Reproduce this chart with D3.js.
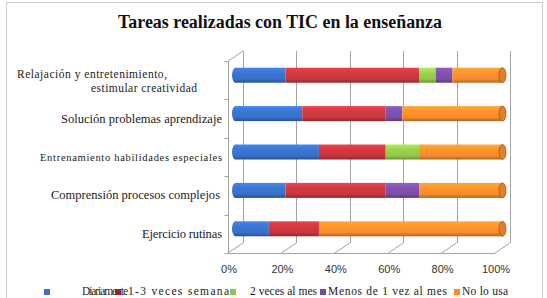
<!DOCTYPE html>
<html>
<head>
<meta charset="utf-8">
<script src="https://cdn.jsdelivr.net/npm/d3@7"></script>
<style>
  html, body { margin: 0; padding: 0; background: #fff; overflow: hidden; }
</style>
</head>
<body>
<div id="chart"></div>
<script>
// Datos (porcentaje de docentes, n = 16)
const categories = [
  'Relajación y entretenimiento,\nestimular creatividad',
  'Solución problemas aprendizaje',
  'Entrenamiento habilidades especiales',
  'Comprensión procesos complejos',
  'Ejercicio rutinas'
];
const seriesNames = ['Diariamente', '1-3  veces  semana', '2  veces  al  mes', 'Menos de 1 vez al mes', 'No lo usa'];
const diariamente = [18.75, 25, 31.25, 18.75, 12.5];
const semanal = [50, 31.25, 25, 37.5, 18.75];
const mensual = [6.25, 0, 12.5, 0, 0];
const menosMes = [6.25, 6.25, 0, 12.5, 0];
const noUsa = [18.75, 37.5, 31.25, 31.25, 68.75];
const tickValues = [0, 20, 40, 60, 80, 100];
const seriesColors = ['#3870c8', '#c8363e', '#92c84a', '#7a4fa6', '#f68c2c'];
const legendColors = ['#3f6fc6', '#9c1f2f', '#92c84a', '#7448a6', '#f68c2c'];

(function() {
  'use strict';

  const width = 547;
  const height = 298;
  const serif = '"Liberation Serif", "Times New Roman", serif';
  const sans = '"Liberation Sans", Arial, sans-serif';

  // pared del fondo y desplazamiento de profundidad (efecto 3D)
  const wall = { x0: 243, x1: 510, y0: 51, y1: 243 };
  const depth = { dx: -15, dy: 10 };

  const series = [diariamente, semanal, mensual, menosMes, noUsa];

  const svg = d3.select('#chart')
    .append('svg')
    .attr('width', width)
    .attr('height', height)
    .style('display', 'block');

  const defs = svg.append('defs');

  const x = d3.scaleLinear().domain([0, 100]).range([wall.x0, wall.x1]);
  const y = d3.scaleBand().domain(categories).range([wall.y0, wall.y1]);

  // borde exterior
  svg.append('rect')
    .attr('x', 6.5).attr('y', 2.5)
    .attr('width', 536).attr('height', 310)
    .attr('fill', '#fff')
    .attr('stroke', '#c9c9c9');

  // título
  svg.append('text')
    .attr('x', 280).attr('y', 28)
    .attr('text-anchor', 'middle')
    .attr('font-family', serif)
    .attr('font-weight', 'bold')
    .attr('font-size', 18)
    .attr('textLength', 324)
    .attr('lengthAdjust', 'spacingAndGlyphs')
    .attr('fill', '#111')
    .text('Tareas realizadas con TIC en la enseñanza');

  // gradientes de cilindro
  seriesColors.forEach((c, i) => {
    const base = d3.color(c);
    const g = defs.append('linearGradient')
      .attr('id', 'cyl' + i)
      .attr('x1', 0).attr('y1', 0).attr('x2', 0).attr('y2', 1);
    g.append('stop').attr('offset', '0%').attr('stop-color', base.brighter(0.5));
    g.append('stop').attr('offset', '35%').attr('stop-color', base.brighter(0.15));
    g.append('stop').attr('offset', '75%').attr('stop-color', base);
    g.append('stop').attr('offset', '100%').attr('stop-color', base.darker(0.9));
  });

  const grid = svg.append('g')
    .attr('stroke', '#a3a3a3')
    .attr('stroke-width', 1)
    .attr('fill', 'none');

  // líneas verticales de la pared del fondo
  grid.selectAll('.vline')
    .data(tickValues)
    .enter().append('line')
    .attr('x1', d => Math.round(x(d)) + 0.5).attr('x2', d => Math.round(x(d)) + 0.5)
    .attr('y1', wall.y0).attr('y2', wall.y1);

  // líneas del suelo
  grid.selectAll('.fline')
    .data(tickValues)
    .enter().append('line')
    .attr('x1', d => x(d)).attr('y1', wall.y1)
    .attr('x2', d => x(d) + depth.dx).attr('y2', wall.y1 + depth.dy);

  // eje frontal
  grid.append('line')
    .attr('x1', x(0) + depth.dx).attr('x2', x(100) + depth.dx)
    .attr('y1', wall.y1 + depth.dy + 0.5).attr('y2', wall.y1 + depth.dy + 0.5);

  // pared lateral izquierda
  const fx = Math.round(x(0) + depth.dx) + 0.5;
  grid.append('line')
    .attr('x1', fx).attr('x2', fx)
    .attr('y1', wall.y0 + depth.dy).attr('y2', wall.y1 + depth.dy);
  grid.append('line')
    .attr('x1', fx).attr('y1', wall.y0 + depth.dy)
    .attr('x2', x(0)).attr('y2', wall.y0);

  const bounds = categories.map(c => y(c)).concat([wall.y1]);
  grid.selectAll('.ytick')
    .data(bounds)
    .enter().append('line')
    .attr('x1', fx - 4).attr('x2', fx)
    .attr('y1', d => Math.round(d + depth.dy) + 0.5)
    .attr('y2', d => Math.round(d + depth.dy) + 0.5);

  // etiquetas del eje X
  svg.append('g').selectAll('text')
    .data(tickValues)
    .enter().append('text')
    .attr('x', d => x(d) + depth.dx + 1)
    .attr('y', 273)
    .attr('text-anchor', 'middle')
    .attr('font-family', sans)
    .attr('font-size', 11)
    .attr('fill', '#333')
    .text(d => d + '%');

  // etiquetas de categorías
  const labelLayout = [
    [{ x: 17, y: 78, w: 150, fs: 11.5 }, { x: 91, y: 91.5, w: 106, fs: 11.5 }],
    [{ x: 61, y: 123, w: 161 }],
    [{ x: 40, y: 161, w: 182, fs: 10.5 }],
    [{ x: 51, y: 199, w: 169 }],
    [{ x: 142, y: 238, w: 80 }]
  ];
  const catLabels = svg.append('g');
  categories.forEach((c, i) => {
    c.split('\n').forEach((line, j) => {
      const l = labelLayout[i][j];
      catLabels.append('text')
        .attr('x', l.x).attr('y', l.y)
        .attr('font-family', serif)
        .attr('font-size', l.fs || 12.5)
        .attr('textLength', l.w)
        .attr('lengthAdjust', 'spacing')
        .attr('fill', '#1a1a1a')
        .text(line);
    });
  });

  // barras cilíndricas apiladas
  const barH = 15;
  const bx = depth.dx / 2;
  const by = depth.dy / 2;
  const bars = svg.append('g');

  categories.forEach((c, i) => {
    const cy = y(c) + y.bandwidth() / 2 + by;
    let cum = 0;
    const segs = [];
    series.forEach((s, k) => {
      if (s[i] > 0) segs.push({ k, start: cum, end: cum + s[i] });
      cum += s[i];
    });

    const first = segs[0];
    const last = segs[segs.length - 1];

    bars.append('ellipse')
      .attr('cx', x(first.start) + bx).attr('cy', cy)
      .attr('rx', 3.5).attr('ry', barH / 2)
      .attr('fill', `url(#cyl${first.k})`);

    bars.selectAll(null)
      .data(segs)
      .enter().append('rect')
      .attr('x', d => x(d.start) + bx)
      .attr('y', cy - barH / 2)
      .attr('width', d => x(d.end) - x(d.start))
      .attr('height', barH)
      .attr('fill', d => `url(#cyl${d.k})`);

    bars.append('ellipse')
      .attr('cx', x(last.end) + bx).attr('cy', cy)
      .attr('rx', 3.5).attr('ry', barH / 2)
      .attr('fill', d3.color(seriesColors[last.k]).darker(0.25))
      .attr('stroke', d3.color(seriesColors[last.k]).darker(1.2))
      .attr('stroke-width', 0.8);
  });

  // leyenda (en el original queda recortada por el borde inferior)
  const legendLayout = [
    { mx: 44, tx: 82, w: 46 },
    { mx: 115, tx: 128, w: 101 },
    { mx: 230, tx: 250, w: 67 },
    { mx: 320, tx: 328, w: 119 },
    { mx: 454, tx: 462, w: 46 }
  ];
  const legend = svg.append('g');
  seriesNames.forEach((name, i) => {
    const l = legendLayout[i];
    legend.append('text')
      .attr('x', l.tx).attr('y', 295)
      .attr('font-family', serif)
      .attr('font-size', 11.5)
      .attr('textLength', l.w)
      .attr('lengthAdjust', 'spacing')
      .attr('fill', '#1a1a1a')
      .text(name);
    legend.append('rect')
      .attr('x', l.mx).attr('y', 289)
      .attr('width', 6).attr('height', 6)
      .attr('fill', legendColors[i]);
  });
})();
</script>
</body>
</html>
